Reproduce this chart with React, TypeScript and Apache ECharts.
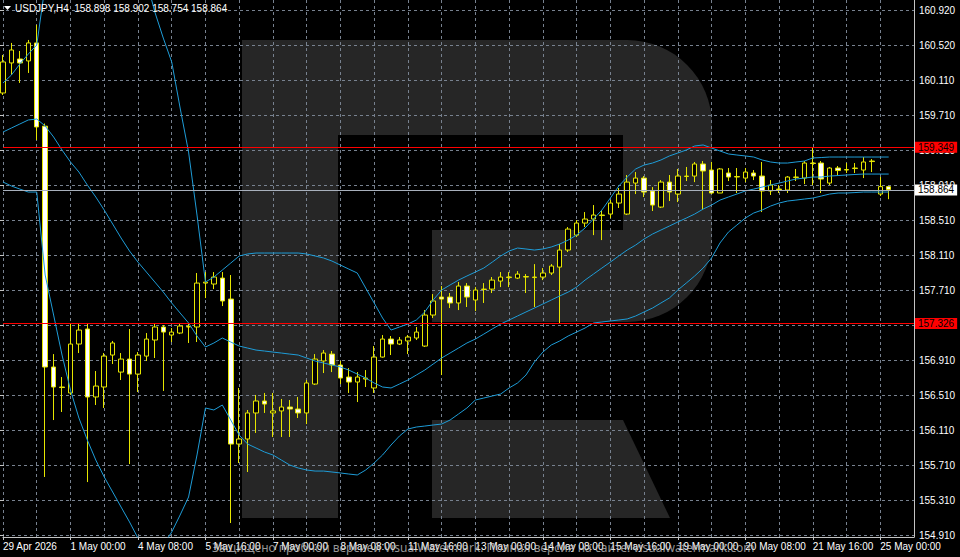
import React, { useEffect, useRef } from 'react';
import * as echarts from 'echarts';

// bars from 29 Apr (index -4) to 25 May 04:00 (index 101)
const opens = [
  159.970, 160.314, 160.359, 160.337, 160.543, 159.590, 156.833, 156.604, 156.536, 157.096,
  157.268, 156.490, 156.604, 156.970, 156.775, 156.924, 156.752, 156.958, 157.142, 157.291,
  157.199, 157.222, 157.291, 157.291, 157.794, 157.783, 157.851, 157.611, 155.951, 156.009,
  156.307, 156.444, 156.307, 156.330, 156.375, 156.352, 156.307, 156.638, 156.902, 156.981,
  156.856, 156.718, 156.661, 156.695, 156.593, 156.947, 157.153, 157.096, 157.131, 157.165,
  157.073, 157.428, 157.634, 157.634, 157.566, 157.760, 157.600, 157.720, 157.725, 157.817,
  157.857, 157.851, 157.863, 157.857, 157.863, 157.909, 157.977, 158.172, 158.343, 158.481,
  158.527, 158.567, 158.584, 158.710, 158.584, 158.939, 158.996, 158.848, 158.664, 158.950,
  158.813, 159.014, 159.019, 159.157, 159.088, 158.825, 159.054, 159.008, 158.996, 159.054,
  159.019, 158.848, 158.870, 158.859, 159.003, 158.996, 159.168, 159.168, 158.939, 159.111,
  159.088, 159.105, 159.088, 159.191, 158.813, 158.898,
];
const closes = [
  160.325, 160.462, 160.314, 160.543, 159.581, 156.833, 156.604, 156.598, 157.096, 157.256,
  156.490, 156.615, 156.958, 157.108, 156.924, 156.752, 156.970, 157.153, 157.291, 157.233,
  157.233, 157.302, 157.297, 157.794, 157.805, 157.863, 157.589, 155.951, 156.009, 156.307,
  156.444, 156.409, 156.330, 156.375, 156.352, 156.307, 156.650, 156.924, 156.993, 156.856,
  156.707, 156.661, 156.718, 156.707, 156.947, 157.153, 157.096, 157.142, 157.176, 157.233,
  157.428, 157.589, 157.611, 157.566, 157.760, 157.634, 157.714, 157.725, 157.828, 157.863,
  157.863, 157.897, 157.869, 157.863, 157.909, 157.989, 158.172, 158.412, 158.481, 158.527,
  158.573, 158.573, 158.710, 158.813, 158.950, 158.996, 158.836, 158.687, 158.950, 158.836,
  159.019, 159.019, 159.157, 159.077, 158.825, 159.100, 159.008, 159.014, 159.065, 159.019,
  158.848, 158.916, 158.865, 159.008, 159.008, 159.168, 159.163, 158.985, 159.111, 159.082,
  159.094, 159.111, 159.180, 159.185, 158.898, 158.864,
];
const lows = [
  159.947, 160.176, 160.085, 160.199, 159.432, 155.574, 156.226, 156.318, 156.513, 156.993,
  155.516, 156.398, 156.364, 156.867, 156.684, 155.722, 156.547, 156.902, 156.936, 156.559,
  157.119, 157.210, 157.108, 157.119, 157.622, 157.725, 157.531, 155.047, 155.734, 155.631,
  156.078, 156.307, 156.032, 156.032, 156.032, 156.249, 156.180, 156.627, 156.764, 156.775,
  156.638, 156.536, 156.432, 156.604, 156.536, 156.940, 156.970, 157.085, 156.981, 157.142,
  157.062, 157.394, 156.741, 157.508, 157.485, 157.520, 157.474, 157.566, 157.680, 157.748,
  157.748, 157.840, 157.680, 157.520, 157.828, 157.886, 157.326, 158.149, 158.321, 158.435,
  158.343, 158.286, 158.538, 158.653, 158.573, 158.813, 158.779, 158.619, 158.653, 158.733,
  158.721, 158.962, 158.950, 158.630, 158.813, 158.825, 158.962, 158.825, 158.950, 158.973,
  158.607, 158.802, 158.825, 158.825, 158.962, 158.927, 158.916, 158.825, 158.916, 159.031,
  159.054, 159.054, 158.996, 159.065, 158.790, 158.754,
];
const highs = [
  160.405, 160.543, 160.451, 160.577, 160.748, 159.620, 156.981, 156.718, 157.337, 157.337,
  157.337, 156.787, 156.993, 157.131, 156.993, 157.268, 157.004, 157.222, 157.337, 157.314,
  157.279, 157.337, 157.337, 157.909, 157.920, 157.920, 157.920, 157.886, 156.593, 156.341,
  156.513, 156.536, 156.536, 156.467, 156.455, 156.490, 156.684, 156.981, 157.027, 157.016,
  156.902, 156.821, 156.775, 156.798, 157.073, 157.199, 157.188, 157.176, 157.199, 157.291,
  157.485, 157.668, 157.760, 157.680, 157.806, 157.794, 157.748, 157.794, 157.863, 157.920,
  157.920, 157.931, 157.897, 158.011, 157.966, 158.011, 158.241, 158.435, 158.515, 158.607,
  158.687, 158.630, 158.744, 158.882, 159.031, 159.065, 159.019, 158.893, 158.973, 159.031,
  159.100, 159.123, 159.180, 159.191, 159.180, 159.111, 159.111, 159.111, 159.111, 159.088,
  159.180, 158.973, 158.916, 159.019, 159.100, 159.191, 159.349, 159.191, 159.123, 159.134,
  159.168, 159.168, 159.237, 159.214, 159.008, 158.902,
];
const upperBand = [
  160.084, 160.176, 160.302, 160.416, 160.519, 161.206, 161.836, 162.351, 162.752, 163.038,
  163.267, 163.382, 163.382, 163.267, 163.038, 162.637, 162.065, 161.263, 160.897, 160.599,
  160.325, 159.798, 159.294, 158.573, 157.806, 157.863, 157.943, 158.023, 158.104, 158.127,
  158.138, 158.138, 158.138, 158.138, 158.138, 158.138, 158.127, 158.104, 158.081, 158.046,
  158.000, 157.954, 157.909, 157.737, 157.566, 157.394, 157.256, 157.291, 157.325, 157.371,
  157.463, 157.600, 157.714, 157.772, 157.828, 157.875, 157.920, 157.966, 158.034, 158.104,
  158.161, 158.195, 158.184, 158.172, 158.184, 158.207, 158.241, 158.286, 158.343, 158.424,
  158.527, 158.630, 158.767, 158.905, 159.008, 159.100, 159.145, 159.168, 159.203, 159.249,
  159.283, 159.317, 159.363, 159.375, 159.340, 159.306, 159.272, 159.260, 159.249, 159.237,
  159.203, 159.180, 159.168, 159.168, 159.180, 159.191, 159.226, 159.231, 159.237, 159.237,
  159.237, 159.237, 159.237, 159.237, 159.237, 159.237,
];
const middleBand = [
  159.523, 159.569, 159.615, 159.661, 159.672, 159.592, 159.466, 159.317, 159.180, 159.065,
  158.916, 158.779, 158.630, 158.470, 158.310, 158.161, 158.034, 157.920, 157.806, 157.691,
  157.566, 157.451, 157.337, 157.188, 157.062, 157.108, 157.165, 157.119, 157.073, 157.050,
  157.027, 157.016, 157.004, 156.993, 156.981, 156.970, 156.936, 156.902, 156.879, 156.856,
  156.833, 156.798, 156.752, 156.707, 156.650, 156.604, 156.593, 156.638, 156.684, 156.741,
  156.798, 156.867, 156.936, 156.993, 157.050, 157.108, 157.153, 157.210, 157.268, 157.325,
  157.371, 157.417, 157.463, 157.508, 157.554, 157.600, 157.646, 157.691, 157.748, 157.828,
  157.897, 157.966, 158.034, 158.104, 158.172, 158.229, 158.298, 158.355, 158.401, 158.447,
  158.493, 158.538, 158.584, 158.641, 158.687, 158.744, 158.779, 158.813, 158.848, 158.870,
  158.893, 158.916, 158.939, 158.962, 158.985, 158.996, 159.008, 159.008, 159.019, 159.025,
  159.031, 159.037, 159.042, 159.042, 159.042, 159.042,
];
const lowerBand = [
  158.951, 158.905, 158.870, 158.836, 158.836, 157.886, 157.428, 156.970, 156.570, 156.249,
  155.997, 155.768, 155.574, 155.402, 155.230, 155.059, 154.875, 154.760, 154.738, 154.795,
  154.944, 155.139, 155.345, 155.826, 156.364, 156.341, 156.398, 156.226, 156.054, 155.951,
  155.906, 155.860, 155.826, 155.768, 155.711, 155.677, 155.654, 155.642, 155.642, 155.631,
  155.620, 155.608, 155.597, 155.654, 155.734, 155.826, 155.940, 156.043, 156.123, 156.146,
  156.157, 156.169, 156.180, 156.226, 156.295, 156.364, 156.455, 156.478, 156.501, 156.524,
  156.593, 156.650, 156.741, 156.890, 157.004, 157.085, 157.131, 157.188, 157.233, 157.279,
  157.337, 157.348, 157.360, 157.371, 157.383, 157.417, 157.463, 157.508, 157.566, 157.623,
  157.714, 157.794, 157.875, 157.966, 158.081, 158.253, 158.378, 158.458, 158.538, 158.596,
  158.630, 158.676, 158.710, 158.733, 158.744, 158.756, 158.767, 158.790, 158.813, 158.825,
  158.825, 158.830, 158.836, 158.836, 158.836, 158.836,
];

const categories = Array.from({ length: 109 }, (_, k) => String(k - 4));
const xTickLabels = [
  '29 Apr 2026', '1 May 00:00', '4 May 08:00', '5 May 16:00', '7 May 00:00', '8 May 08:00',
  '11 May 16:00', '13 May 00:00', '14 May 08:00', '15 May 16:00', '19 May 00:00',
  '20 May 08:00', '21 May 16:00', '25 May 00:00',
];
const yTickLabels = [
  '154.910', '155.310', '155.710', '156.110', '156.510', '156.910', '157.310', '157.710',
  '158.110', '158.510', '158.910', '159.310', '159.710', '160.110', '160.520', '160.920',
];
const levelLines = [159.349, 157.326];
const bidPrice = 158.864;
const headerText = 'USDJPY,H4  158.898 158.902 158.754 158.864';
const watermarkText = 'Защищено пробной версией VisualWatermark. Полная версия на сайте: visualwatermark.com';

export default function App() {
  const ref = useRef<HTMLDivElement>(null);
  useEffect(() => {
    const chart = echarts.init(ref.current!, null, { renderer: 'svg' });
    const candleData = opens.map((o, k) => [o, closes[k], lows[k], highs[k]]);
    const gridColor = '#77818f';
    const axisColor = '#c4c4c4';
    const bandColor = '#1e9cd7';
    const candleColor = '#e6e600';
    const font = 'Liberation Sans';
    const bandSeries = (data: number[]) => ({
      type: 'line',
      xAxisIndex: 0,
      yAxisIndex: 0,
      data,
      showSymbol: false,
      symbol: 'none',
      silent: true,
      clip: true,
      z: 3,
      lineStyle: { color: bandColor, width: 1 },
    });
    const mkLabel = (text: string, bg: string) => ({
      show: true,
      position: 'end',
      distance: 1,
      formatter: text,
      backgroundColor: bg,
      color: '#000000',
      fontSize: 10,
      fontFamily: font,
      padding: [1, 3, 0, 3],
    });
    const option: any = {
      animation: false,
      backgroundColor: '#000000',
      textStyle: { fontFamily: font },
      grid: [
        { left: -1, right: 46, top: 0, bottom: 20 },
        { left: -1, right: 46, top: 10, bottom: 22 },
      ],
      xAxis: [
        {
          type: 'category',
          gridIndex: 0,
          data: categories,
          boundaryGap: false,
          axisLine: { show: true, lineStyle: { color: axisColor, width: 1 } },
          axisTick: {
            show: true,
            interval: (i: number) => i % 8 === 0,
            length: 3,
            lineStyle: { color: axisColor },
          },
          axisLabel: {
            show: true,
            interval: (i: number) => i % 8 === 0,
            formatter: (_v: string, i: number) => xTickLabels[i / 8] ?? '',
            align: 'left',
            color: '#ffffff',
            fontSize: 10,
            fontFamily: font,
            margin: 4,
          },
          splitLine: {
            show: true,
            interval: (i: number) => i % 4 === 0,
            lineStyle: { color: gridColor, type: [3, 3], width: 1 },
          },
        },
        { type: 'value', gridIndex: 1, show: false, min: 0, max: 1 },
      ],
      yAxis: [
        {
          type: 'value',
          gridIndex: 0,
          position: 'right',
          min: 154.887,
          max: 161.0345,
          axisLine: { show: true, lineStyle: { color: axisColor, width: 1 } },
          axisTick: { show: false },
          axisLabel: { show: false },
          splitLine: { show: false },
        },
        {
          type: 'value',
          gridIndex: 1,
          position: 'right',
          min: 0,
          max: 15,
          interval: 1,
          axisLine: { show: false },
          axisTick: { show: true, length: 4, lineStyle: { color: axisColor } },
          axisLabel: {
            formatter: (v: number) => yTickLabels[Math.round(v)] ?? '',
            color: '#ffffff',
            fontSize: 10,
            fontFamily: font,
            margin: 5,
          },
          splitLine: { show: true, lineStyle: { color: gridColor, type: [3, 3], width: 1 } },
        },
      ],
      graphic: [
        { type: 'rect', z: -10, silent: true, shape: { x: 242, y: 40, width: 470, height: 282, r: [0, 85, 85, 0] }, style: { fill: '#262626' } },
        { type: 'rect', z: -10, silent: true, shape: { x: 242, y: 40, width: 96, height: 478 }, style: { fill: '#262626' } },
        { type: 'polygon', z: -10, silent: true, shape: { points: [[432, 420], [623, 420], [670, 518], [432, 518]] }, style: { fill: '#262626' } },
        { type: 'rect', z: -9, silent: true, shape: { x: 338, y: 135, width: 285, height: 95 }, style: { fill: '#000000' } },
        { type: 'rect', z: -9, silent: true, shape: { x: 338, y: 230, width: 94, height: 92 }, style: { fill: '#000000' } },
        { type: 'polygon', z: 20, silent: true, shape: { points: [[4, 6], [11, 6], [7.5, 10]] }, style: { fill: '#ffffff' } },
        { type: 'text', z: 20, silent: true, x: 15, y: 8, style: { text: headerText, fill: '#ffffff', font: `10px "${font}"`, verticalAlign: 'middle' } },
        { type: 'text', z: 20, silent: true, x: 212, y: 547, style: { text: watermarkText, fill: 'rgba(200,200,200,0.75)', font: '12px "Noto Sans"', verticalAlign: 'middle' } },
      ],
      series: [
        {
          type: 'candlestick',
          xAxisIndex: 0,
          yAxisIndex: 0,
          data: candleData,
          barWidth: 5,
          silent: true,
          z: 2,
          itemStyle: {
            color: '#000000',
            color0: '#ffffff',
            borderColor: candleColor,
            borderColor0: candleColor,
            borderWidth: 1,
          },
          markLine: {
            silent: true,
            symbol: ['none', 'none'],
            z: 5,
            data: [
              ...levelLines.map((v) => ({
                yAxis: v,
                lineStyle: { color: '#ff0000', width: 1, type: 'solid' },
                label: mkLabel(v.toFixed(3), '#ff0000'),
              })),
              {
                yAxis: bidPrice,
                lineStyle: { color: '#a8b0bc', width: 1, type: 'solid' },
                label: mkLabel(bidPrice.toFixed(3), '#ffffff'),
              },
            ],
          },
        },
        bandSeries(upperBand),
        bandSeries(middleBand),
        bandSeries(lowerBand),
      ],
    };
    chart.setOption(option);
    return () => chart.dispose();
  }, []);
  return <div ref={ref} style={{ position: 'fixed', left: 0, top: 0, width: 960, height: 557 }} />;
}
